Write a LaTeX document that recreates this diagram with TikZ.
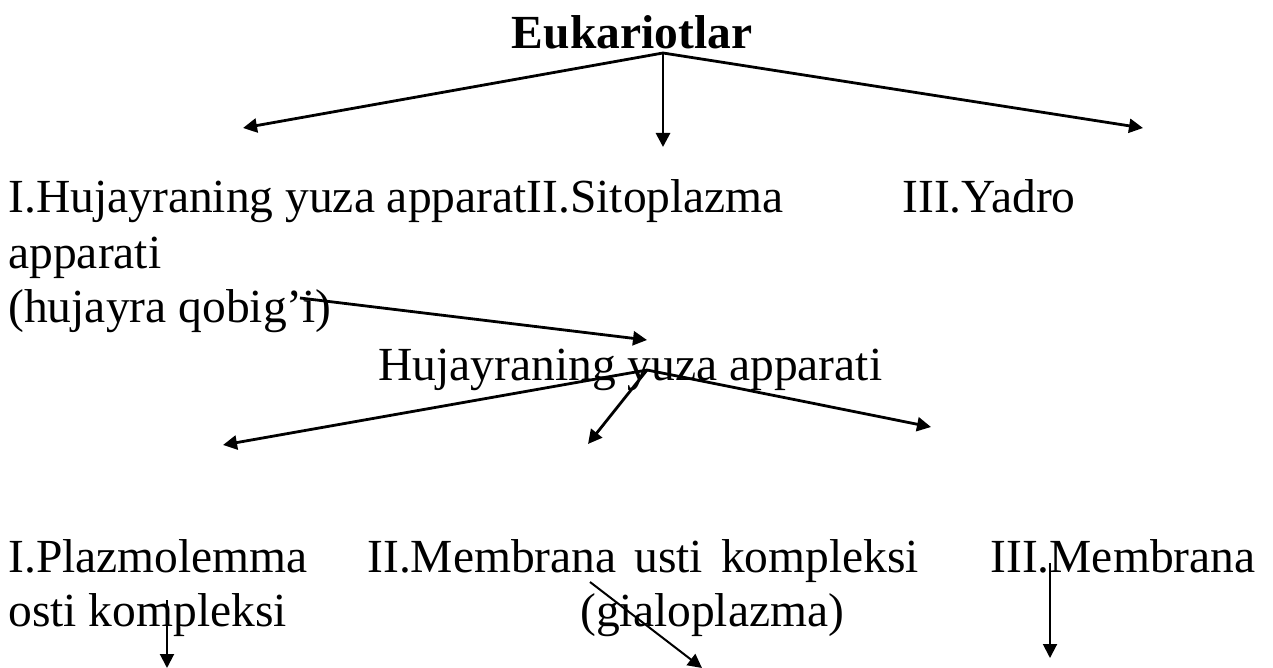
\documentclass[tikz,border=0pt]{standalone}
\usepackage{fontspec}
\setmainfont{Liberation Serif}
\usetikzlibrary{arrows.meta}

\begin{document}
\begin{tikzpicture}[x=0.5pt, y=-0.5pt, line join=round, >={Triangle[length=7pt, width=7pt]},
		txt/.style={anchor=base west, inner sep=0pt, font=\fontsize{23.75}{27}\selectfont},
		arr/.style={->, line width=1.4pt},
		thinarr/.style={->, line width=1pt}]
		\useasboundingbox (0,0) rectangle (1273,668);
		% top level
		\node[txt, anchor=base, font=\fontsize{23.75}{27}\selectfont\bfseries] (euk) at (632,49) {Eukariotlar};
		\coordinate (o1) at (663,53);
		\coordinate (t1) at (243,128);
		\coordinate (t2) at (663,147);
		\coordinate (t3) at (1143,128);
		\foreach \t in {t1,t2,t3} \draw[arr] (o1) -- (\t);
		\node[txt] (hyu) at (8,213) {I.Hujayraning yuza apparatII.Sitoplazma};
		\node[txt] (yad) at (902,213) {III.Yadro};
		\node[txt] (app) at (8,268) {apparati};
		\node[txt] (qob) at (8,322) {(hujayra qobig’i)};
		% second level
		\coordinate (s1) at (300,298);
		\coordinate (t4) at (647,340);
		\draw[arr] (s1) -- (t4);
		\node[txt] (yuza) at (378,380) {Hujayraning yuza apparati};
		\coordinate (o2) at (647,370);
		\coordinate (t5) at (223,445);
		\coordinate (t6) at (588,444);
		\coordinate (t7) at (931,427);
		\foreach \t in {t5,t6,t7} \draw[arr] (o2) -- (\t);
		% bottom level
		\node[txt] (pla) at (8,572) {I.Plazmolemma};
		\node[txt] (mem) at (367,572) {II.Membrana\hspace{3pt} usti\hspace{3pt} kompleksi};
		\node[txt] (memb) at (990,572) {III.Membrana};
		\node[txt] (ost) at (8,626) {osti kompleksi};
		\node[txt] (gia) at (580,626) {(gialoplazma)};
		\coordinate (s2) at (167,600);
		\coordinate (t8) at (167,668);
		\coordinate (s3) at (590,582);
		\coordinate (t9) at (702,668);
		\coordinate (s4) at (1050,563);
		\coordinate (t10) at (1050,658);
		\draw[thinarr] (s2) -- (t8);
		\draw[thinarr] (s3) -- (t9);
		\draw[thinarr] (s4) -- (t10);
	\end{tikzpicture}
\end{document}
